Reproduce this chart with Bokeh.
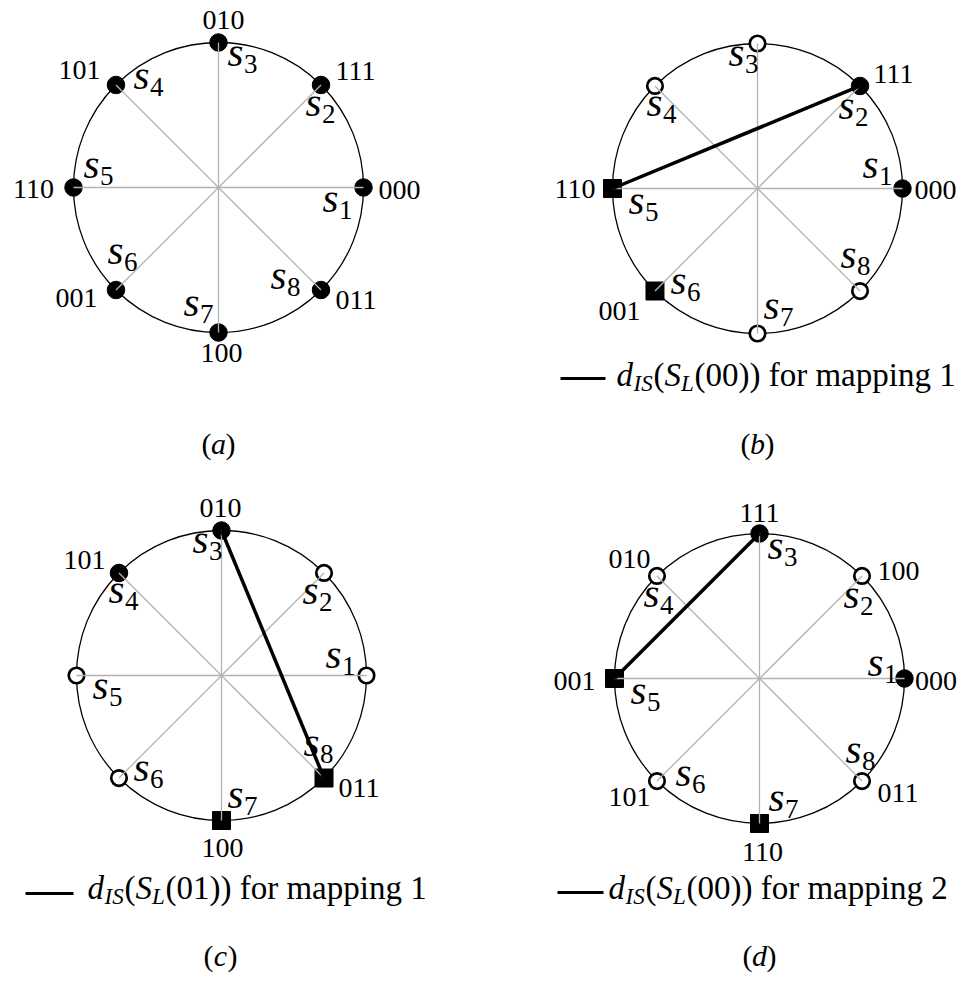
import math
from bokeh.plotting import figure
from bokeh.models import Range1d
from bokeh.core.properties import value
from bokeh.embed import file_html
from bokeh.resources import INLINE

# ---------------- data ----------------
sym_index = ["1", "2", "3", "4", "5", "6", "7", "8"]
angles_deg = [0, 45, 90, 135, 180, 225, 270, 315]

bits_a = ["000", "111", "010", "101", "110", "001", "100", "011"]
marks_a = ["filled"] * 8
bits_b = ["000", "111", "", "", "110", "001", "", ""]
marks_b = ["filled", "filled", "open", "open", "square", "square", "open", "open"]
bits_c = ["", "", "010", "101", "", "", "100", "011"]
marks_c = ["open", "open", "filled", "filled", "open", "open", "square", "square"]
bits_d = ["000", "100", "111", "010", "001", "101", "110", "011"]
marks_d = ["filled", "open", "filled", "open", "square", "open", "square", "open"]
links = {"a": None, "b": (2, 5), "c": (3, 8), "d": (3, 5)}
legend_pair = {"b": "00", "c": "01", "d": "00"}
legend_map = {"b": "1", "c": "1", "d": "2"}
captions = ["a", "b", "c", "d"]

# ---------------- layout (picture pixels) ----------------
W, H = 958, 973
R = 145
FONT = value("'Liberation Serif', serif")
BASE_FIX = 0.33  # alphabetic baseline correction (em)

panels = {
    "a": dict(c=(218, 187), bits=bits_a, marks=marks_a,
              bit_pos=[("left", 15, 2), ("left", 14.5, -13.5), ("center", 5, -23), ("right", -15.5, -14.5),
                       ("right", -19.5, 1), ("right", -18.5, 8), ("center", 3, 20), ("left", 14.5, 9.5)],
              s_pos=[(-41, 24), (-15.5, 30.5), (9, 23), (17.5, 3.5), (10, -10), (-8.5, -26.5), (-35, -17), (-50.5, -1.5)],
              cap=(218, 453), leg=None),
    "b": dict(c=(757, 188), bits=bits_b, marks=marks_b,
              bit_pos=[("left", 12, 1), ("left", 13.5, -11.5), None, None,
                       ("right", -17, 0), ("right", -14.5, 19.5), None, None],
              s_pos=[(-40, -11), (-21.5, 32.5), (-29, 22), (-8.5, 29.5), (16, 25), (15.5, 2.5), (6, -15), (-19.5, -23.5)],
              cap=(757, 453), leg=dict(x0=616, base=385, lx=(560, 605), ly=378)),
    "c": dict(c=(221, 675), bits=bits_c, marks=marks_c,
              bit_pos=[None, None, ("center", -1, -23), ("right", -13.5, -12.5),
                       None, None, ("center", 1, 27), ("left", 14.5, 9.5)],
              s_pos=[(-41, -8), (-21.5, 30.5), (-29, 22), (-10.5, 29.5), (16, 23), (14.5, 2.5), (6, -13), (-20.5, -22.5)],
              cap=(220, 965), leg=dict(x0=87, base=898, lx=(25, 73), ly=893)),
    "d": dict(c=(759, 678), bits=bits_d, marks=marks_d,
              bit_pos=[("left", 10.5, 2), ("left", 15.5, -4.5), ("center", 0, -21), ("right", -6.5, -16.5),
                       ("right", -19, 2), ("right", -6.5, 15.5), ("center", 3, 28), ("left", 15.5, 11.5)],
              s_pos=[(-37, -3), (-18.5, 31.5), (8, 25), (-13.5, 30.5), (16, 25), (18.5, 4.5), (9, -13), (-16.5, -18.5)],
              cap=(759, 965), leg=dict(x0=608, base=898, lx=(557, 603), ly=892)),
}

p = figure(width=W, height=H, output_backend="svg", toolbar_location=None,
           x_range=Range1d(0, W), y_range=Range1d(H, 0), min_border=0)
p.axis.visible = False
p.grid.visible = False
p.outline_line_color = None
p.background_fill_color = "white"


def txt(x, y, s, size, style="normal", align="left", baseline="alphabetic"):
    if baseline == "alphabetic":
        y = y - BASE_FIX * size
    p.text(x=[x], y=[y], text=[s], text_font=FONT, text_font_size=f"{size}px",
           text_font_style=style, text_align=align, text_baseline=baseline, text_color="black")


for key in captions:
    pn = panels[key]
    cx, cy = pn["c"]
    pts = [(cx + R * math.cos(math.radians(a)), cy - R * math.sin(math.radians(a))) for a in angles_deg]
    xs = [q[0] for q in pts]
    ys = [q[1] for q in pts]

    # outline circle
    p.circle(x=[cx], y=[cy], radius=R, fill_color=None, line_color="black", line_width=1.3)

    # markers
    for kind in ("filled", "open", "square"):
        idx = [i for i, m in enumerate(pn["marks"]) if m == kind]
        if not idx:
            continue
        mx = [xs[i] for i in idx]
        my = [ys[i] for i in idx]
        if kind == "filled":
            p.scatter(mx, my, marker="circle", size=17.5, fill_color="black", line_color="black", line_width=1)
        elif kind == "open":
            p.scatter(mx, my, marker="circle", size=15.5, fill_color="white", line_color="black", line_width=2.7)
        else:
            p.scatter(mx, my, marker="square", size=18, fill_color="black", line_color="black", line_width=1)

    # spokes
    p.segment(x0=[cx] * 8, y0=[cy] * 8, x1=xs, y1=ys, line_color="#b3b3b3", line_width=1.3)

    # thick link
    lk = links[key]
    if lk:
        i, j = lk[0] - 1, lk[1] - 1
        p.line([xs[i], xs[j]], [ys[i], ys[j]], line_color="black", line_width=3.5)

    # bit labels
    for k in range(8):
        bp = pn["bit_pos"][k]
        if bp is None or not pn["bits"][k]:
            continue
        al, dx, dy = bp
        txt(xs[k] + dx, ys[k] + dy, pn["bits"][k], 28, align=al, baseline="middle")

    # s_k labels
    for k in range(8):
        dx, dy = pn["s_pos"][k]
        sx, sy = xs[k] + dx, ys[k] + dy
        txt(sx, sy, "s", 41, style="italic")
        txt(sx + 16.5, sy + 7, sym_index[k], 27)

    # legend
    lg = pn["leg"]
    if lg:
        x0, b = lg["x0"], lg["base"]
        p.line(list(lg["lx"]), [lg["ly"], lg["ly"]], line_color="black", line_width=3)
        txt(x0, b, "d", 33, style="italic")
        txt(x0 + 17, b + 6, "IS", 23, style="italic")
        txt(x0 + 37, b, "(", 33)
        txt(x0 + 48, b, "S", 33, style="italic")
        txt(x0 + 64.5, b + 6, "L", 23, style="italic")
        txt(x0 + 78, b, f"({legend_pair[key]})) for mapping {legend_map[key]}", 33)

    # caption
    capx, capb = pn["cap"]
    txt(capx - 12, capb, "(", 30, align="center")
    txt(capx, capb, key, 30, style="italic", align="center")
    txt(capx + 12, capb, ")", 30, align="center")

open("out.html", "w").write(file_html(p, INLINE))
